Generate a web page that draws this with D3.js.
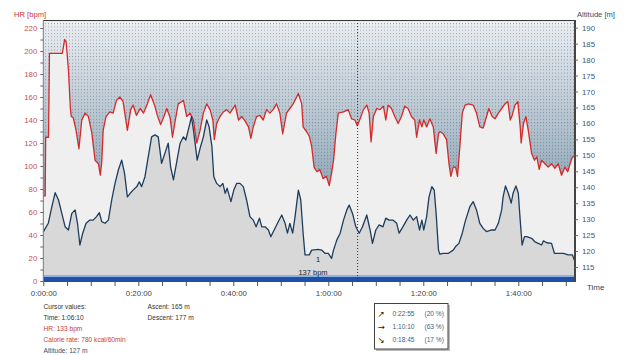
<!DOCTYPE html>
<html><head><meta charset="utf-8">
<script src="https://cdn.jsdelivr.net/npm/d3@7"></script>
<style>
html,body{margin:0;padding:0;background:#fff;}
svg{display:block;font-family:"Liberation Sans",Arial,sans-serif;}
</style></head>
<body><svg id="c" width="640" height="355"></svg>
<script>
// ---- data (time in minutes) ----
const hrMinutes = [0,0.4,0.5,1.1,1.3,4.0,4.5,4.8,5.3,5.7,5.9,6.3,6.9,7.5,8.1,8.8,9.5,10.2,10.9,11.6,12.0,12.3,12.6,13.2,14.0,14.7,15.4,16.1,16.8,17.7,18.4,18.9,19.6,20.4,21.1,21.9,22.6,23.5,24.0,24.7,25.4,26.0,26.7,27.2,27.8,28.4,29.5,30.2,30.9,31.6,32.3,33.0,33.7,34.4,35.1,35.7,36.0,36.5,37.2,37.9,38.6,39.3,40.4,41.1,41.8,42.5,43.2,43.7,44.2,44.9,45.6,46.3,47.0,47.7,48.4,49.1,49.8,50.4,51.2,51.9,52.6,53.7,54.4,54.7,55.4,56.0,56.5,57.0,57.6,58.2,58.9,59.6,60.2,60.7,61.1,61.6,62.1,63.2,64.2,64.9,65.6,66.1,66.7,67.4,68.1,68.6,69.0,69.5,70.2,70.9,71.6,72.1,72.6,73.3,74.0,74.7,75.4,76.1,76.8,77.5,78.2,78.6,79.2,79.7,80.1,80.7,81.4,82.1,82.7,83.2,83.5,84.2,84.9,85.4,85.8,86.3,86.8,87.2,87.7,88.2,88.8,89.5,90.5,91.2,91.9,92.6,93.1,93.8,94.5,95.1,95.8,96.5,97.2,97.8,98.3,98.7,99.3,99.9,100.4,100.6,101.1,101.6,102.1,102.8,103.4,103.9,104.4,104.9,105.6,106.3,107.0,107.7,108.4,109.1,109.8,110.4,110.9,111.4,111.83];
const hrBpm = [74,74,125,125,198,198,210,208,183,150,143,142,131,115,140,146,143,129,105,102,92,103,131,143,147,146,157,160,156,131,149,153,144,150,146,154,162,152,144,136,143,150,142,125,140,154,157,143,146,140,120,131,146,154,149,140,123,137,143,147,149,146,153,140,143,139,134,124,134,143,144,140,149,146,149,154,146,128,146,150,154,163,154,134,130,126,117,99,95,97,89,91,83,94,105,128,146,147,149,141,140,135,141,149,153,146,121,143,150,149,152,140,153,150,143,137,143,152,150,143,140,125,140,134,140,134,141,134,111,128,130,128,123,102,91,99,99,91,117,146,153,154,153,146,134,133,140,150,143,141,146,150,154,156,140,144,153,156,134,120,137,143,131,111,105,108,97,105,102,99,102,98,102,92,99,95,102,108,108];
const altMinutes = [0,1.05,1.8,2.5,3.2,3.9,4.6,5.3,6.0,6.7,7.2,7.7,8.3,9.0,9.8,10.5,11.2,11.8,12.3,13.0,13.7,14.4,15.1,15.8,16.5,17.1,17.7,18.3,18.9,19.7,20.2,20.7,21.4,22.1,22.8,23.5,24.2,24.9,25.6,26.3,26.8,27.4,28.1,28.8,29.5,30.0,30.7,31.2,31.7,32.4,33.1,33.7,34.4,34.9,35.5,35.9,36.5,37.2,37.8,38.3,38.7,39.5,40.1,40.7,41.4,42.1,42.8,43.5,44.2,44.8,45.5,46.0,46.7,47.4,47.9,48.6,49.3,50.2,50.9,51.4,51.9,52.5,53.0,53.7,54.2,54.7,55.1,56.0,56.5,57.9,58.6,59.3,60.0,60.7,61.1,61.8,62.5,63.2,63.9,64.4,65.1,65.8,66.5,67.2,68.1,68.8,69.3,70.0,70.7,71.5,72.1,72.8,73.6,74.4,74.9,75.7,76.5,77.2,77.9,78.6,79.2,79.7,80.1,80.7,81.2,81.8,82.3,82.7,83.2,83.5,84.2,85.3,86.3,86.8,87.5,88.2,88.9,89.8,90.5,91.2,91.9,92.6,93.3,94.4,95.1,95.8,96.5,96.8,97.3,97.9,98.5,98.9,99.5,100.0,100.4,100.8,101.3,101.8,102.8,103.5,104.2,104.9,105.3,106.0,107.0,107.6,109.5,110.5,111.4,111.83];
const altMeters = [126,128.7,133.9,138.3,136,131.8,127.6,126.6,131.8,132.9,128.7,121.9,125.6,128.7,129.7,129.7,130.8,132,129.2,128.7,129.7,136,141.2,145.4,148.5,144.4,137,138.1,139.1,140.2,141.7,140.2,143.3,149.6,155.8,156.4,155.8,147.5,150.6,153.8,146.4,142.3,148,153.8,155.8,154.8,159,162.1,156.9,148.5,152.7,155.8,161.1,159,152.7,143.3,141.2,140.2,141.2,138.1,139.7,135.5,139.1,141.2,141.2,140.2,136,130.8,129.7,127.6,130.3,127.6,127.6,126.6,124.5,126.6,128.7,131.3,128.7,125.6,128.7,125.6,130.8,139.1,136,125.6,118.8,118.8,120.3,120.5,120.3,119.3,119.3,117.7,120.3,123.5,125.6,129.7,132.9,134.4,131.8,127.6,125.6,127.6,131.3,126.6,122.4,126.6,128.2,127.6,130.3,129.7,129.7,128.7,125.6,127.6,129.7,131.3,129.7,130.8,126.6,129.7,126.6,130.8,137,140.2,139.1,131.8,120.3,119,119.3,119.3,120.3,121.4,122.4,125.6,129.7,133.9,135.5,132.9,128.7,127.1,126.1,126.6,126.6,128.7,132.9,137,140.4,138.1,135,138.1,140.4,138.1,129.7,121.9,124.5,124.5,124,122.9,122.4,121.9,123.2,122.6,122.4,119.3,119.3,118.8,118.8,117];
const hrTicks = [0,20,40,60,80,100,120,140,160,180,200,220];
const altTicks = [115,120,125,130,135,140,145,150,155,160,165,170,175,180,185,190];
const timeTickLabels = ["0:00:00","0:20:00","0:40:00","1:00:00","1:20:00","1:40:00"];
const timeTickMinutes = [0,20,40,60,80,100];
const cursorMinute = 66.17;
const cursorLines = ["Cursor values:","Time: 1:06:10","HR: 133 bpm","Calorie rate: 780 kcal/60min","Altitude: 127 m"];
const summaryLines = ["Ascent: 165 m","Descent: 177 m"];
const zoneArrows = ["\u2197","\u2192","\u2198"];
const zoneTimes = ["0:22:55","1:10:10","0:18:45"];
const zonePct = ["(20 %)","(63 %)","(17 %)"];

// ---- layout ----
const L = 43.3, R = 575, T = 20, B = 282;
const svg = d3.select("#c");
const x = d3.scaleLinear().domain([0, 111.83]).range([L, L + 111.83 * 4.75]);
const yHR = d3.scaleLinear().domain([0, 220]).range([281, 28]);
const yAlt = d3.scaleLinear().domain([115, 190]).range([267, 27.7]);

const defs = svg.append("defs");
const g = defs.append("linearGradient").attr("id","bg").attr("gradientUnits","userSpaceOnUse")
  .attr("x1",0).attr("y1",T).attr("x2",0).attr("y2",200);
g.append("stop").attr("offset",0).attr("stop-color","#eceff2");
g.append("stop").attr("offset",0.45).attr("stop-color","#c0ccd6");
g.append("stop").attr("offset",1).attr("stop-color","#8aa2b4");
const pat = defs.append("pattern").attr("id","dots").attr("patternUnits","userSpaceOnUse")
  .attr("width",3).attr("height",3.3);
pat.append("rect").attr("x",0).attr("y",0).attr("width",1).attr("height",1).attr("fill","rgba(60,80,100,0.45)");
defs.append("clipPath").attr("id","clip").append("rect").attr("x",L).attr("y",T).attr("width",R-L).attr("height",B-T);

const plot = svg.append("g").attr("clip-path","url(#clip)");
plot.append("rect").attr("x",L).attr("y",T).attr("width",R-L).attr("height",B-T).attr("fill","url(#bg)");
plot.append("rect").attr("x",L).attr("y",T).attr("width",R-L).attr("height",B-T).attr("fill","url(#dots)");

const hrData = hrMinutes.map((m,i)=>[m,hrBpm[i]]);
const altData = altMinutes.map((m,i)=>[m,altMeters[i]]);

plot.append("path").datum(hrData)
  .attr("d", d3.area().x(d=>x(d[0])).y0(B).y1(d=>yHR(d[1])))
  .attr("fill","#efefef");
plot.append("path").datum(altData)
  .attr("d", d3.area().x(d=>x(d[0])).y0(B).y1(d=>yAlt(d[1])))
  .attr("fill","#d8d8d8");
plot.append("path").datum(hrData)
  .attr("d", d3.line().x(d=>x(d[0])).y(d=>yHR(d[1])))
  .attr("fill","none").attr("stroke","#d42a2a").attr("stroke-width",1.3).attr("stroke-linejoin","round");
plot.append("path").datum(altData)
  .attr("d", d3.line().x(d=>x(d[0])).y(d=>yAlt(d[1])))
  .attr("fill","none").attr("stroke","#1d3d5c").attr("stroke-width",1.3).attr("stroke-linejoin","round");

// blue band
plot.append("rect").attr("x",L).attr("y",275).attr("width",R-L).attr("height",2).attr("fill","#8fb2e6");
plot.append("rect").attr("x",L).attr("y",277).attr("width",R-L).attr("height",5).attr("fill","#1f4fa6");

// cursor
const cx = x(cursorMinute);
svg.append("line").attr("x1",cx).attr("x2",cx).attr("y1",T).attr("y2",B)
  .attr("stroke","#333").attr("stroke-width",1).attr("stroke-dasharray","1,2");
svg.append("text").attr("x",318).attr("y",262).attr("font-size",7.5).attr("fill","#222").attr("text-anchor","middle").text("1");
svg.append("text").attr("x",313).attr("y",274.5).attr("font-size",7.5).attr("fill","#222").attr("text-anchor","middle").text("137 bpm");

// frame
svg.append("line").attr("x1",L).attr("x2",R).attr("y1",T+0.5).attr("y2",T+0.5).attr("stroke","#333").attr("stroke-width",1.2);
svg.append("line").attr("x1",L).attr("x2",L).attr("y1",T).attr("y2",B).attr("stroke","#777").attr("stroke-width",1);
svg.append("line").attr("x1",R).attr("x2",R).attr("y1",T).attr("y2",B).attr("stroke","#444").attr("stroke-width",2);

// left axis
const leftAx = d3.axisLeft(yHR).tickValues(d3.range(0,221,10)).tickSize(3)
  .tickFormat(d=> hrTicks.includes(d) ? d : "");
const la = svg.append("g").attr("transform",`translate(${L},0)`).call(leftAx);
la.select(".domain").remove();
la.selectAll("line").attr("stroke","#666");
la.selectAll("text").attr("font-size",7.8).attr("fill","#c85050").attr("font-family","Liberation Sans, Arial, sans-serif");

// right axis
const rightAx = d3.axisRight(yAlt).tickValues(altTicks).tickSize(3).tickPadding(4);
const ra = svg.append("g").attr("transform",`translate(${R},0)`).call(rightAx);
ra.select(".domain").remove();
ra.selectAll("line").attr("stroke","#666");
ra.selectAll("text").attr("font-size",7.8).attr("fill","#3b5876").attr("font-family","Liberation Sans, Arial, sans-serif");

// bottom axis
const botAx = d3.axisBottom(x).tickValues(d3.range(0,112,5)).tickSize(4).tickPadding(4)
  .tickFormat(d=>{const i=timeTickMinutes.indexOf(d); return i>=0?timeTickLabels[i]:"";});
const ba = svg.append("g").attr("transform",`translate(0,${B})`).call(botAx);
ba.select(".domain").remove();
ba.selectAll("line").attr("stroke","#555");
ba.selectAll("text").attr("font-size",7.8).attr("fill","#444").attr("font-family","Liberation Sans, Arial, sans-serif");

// axis titles
svg.append("text").attr("x",14).attr("y",16.5).attr("font-size",7.6).attr("fill","#cc3333").text("HR [bpm]");
svg.append("text").attr("x",577).attr("y",16.5).attr("font-size",7.6).attr("fill","#2f4f72").text("Altitude [m]");
svg.append("text").attr("x",587).attr("y",290).attr("font-size",8).attr("fill","#444").text("Time");

// cursor values text
const cColors = ["#333","#333","#c83c3c","#c83c3c","#2f4f72"];
cursorLines.forEach((t,i)=>{
  svg.append("text").attr("x",43.5).attr("y",308.5+i*11).attr("font-size",6.6).attr("fill",cColors[i]).text(t);
});
summaryLines.forEach((t,i)=>{
  svg.append("text").attr("x",147.5).attr("y",308.5+i*11).attr("font-size",6.6).attr("fill","#333").text(t);
});

// zone box
svg.append("rect").attr("x",376).attr("y",305).attr("width",74).attr("height",46).attr("fill","#bbb");
svg.append("rect").attr("x",374.5).attr("y",303.5).attr("width",73.5).attr("height",45.5).attr("fill","#fff").attr("stroke","#444").attr("stroke-width",1);
zoneTimes.forEach((t,i)=>{
  const yy = 315.5 + i*13.3;
  svg.append("text").attr("x",377.5).attr("y",yy+1).attr("font-size",8.5).attr("font-family","DejaVu Sans, sans-serif").attr("fill","#222").text(zoneArrows[i]);
  svg.append("text").attr("x",392.5).attr("y",yy).attr("font-size",6.6).attr("fill","#3f5f80").text(t);
  svg.append("text").attr("x",424.5).attr("y",yy).attr("font-size",6.6).attr("fill","#3f5f80").text(zonePct[i]);
});
</script></body></html>
